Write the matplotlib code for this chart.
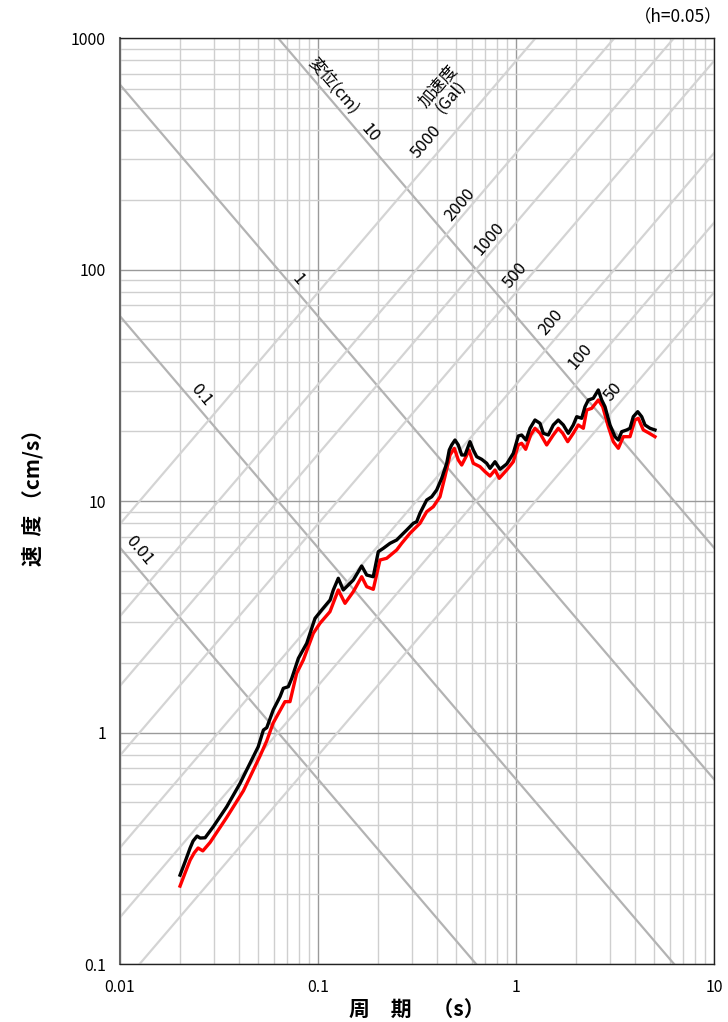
import numpy as np
import matplotlib
matplotlib.use("Agg")
import matplotlib.pyplot as plt
from matplotlib.ticker import FixedLocator, FixedFormatter, LogLocator, NullFormatter

plt.rcParams['font.family'] = ['Noto Sans CJK JP', 'DejaVu Sans']

# 擬似速度応答スペクトル (h=0.05)
period_black = [0.0201, 0.0213, 0.0226, 0.0234, 0.0245, 0.0254, 0.0269, 0.0296, 0.0346, 0.0404,
                0.0471, 0.0499, 0.0530, 0.0551, 0.0594, 0.0643, 0.0668, 0.0708, 0.0737, 0.0796,
                0.0877, 0.0966, 0.1044, 0.1151, 0.1195, 0.1266, 0.1342, 0.1508, 0.1662, 0.1762,
                0.1901, 0.2016, 0.2138, 0.2311, 0.2496, 0.2594, 0.2805, 0.3029, 0.3151, 0.3273,
                0.354, 0.3752, 0.3976, 0.4214, 0.4467, 0.4603, 0.4733, 0.492, 0.5111, 0.5318,
                0.5527, 0.5856, 0.6085, 0.6331, 0.6709, 0.7112, 0.7392, 0.7834, 0.8302, 0.8974,
                0.9691, 1.027, 1.068, 1.123, 1.177, 1.247, 1.322, 1.374, 1.456, 1.543,
                1.635, 1.734, 1.837, 1.947, 2.026, 2.147, 2.231, 2.319, 2.457, 2.604,
                2.709, 2.815, 2.984, 3.162, 3.287, 3.419, 3.623, 3.765, 3.912, 4.118,
                4.314, 4.482, 4.752, 5.035]
vel_black = [0.242, 0.276, 0.317, 0.340, 0.357, 0.350, 0.351, 0.392, 0.478, 0.603,
             0.786, 0.868, 1.025, 1.049, 1.251, 1.428, 1.552, 1.577, 1.714, 2.092,
             2.428, 3.113, 3.382, 3.736, 4.127, 4.636, 4.127, 4.558, 5.240, 4.789,
             4.709, 6.04, 6.247, 6.565, 6.784, 7.012, 7.492, 8.011, 8.139, 8.85,
             10.1, 10.43, 11.16, 12.53, 14.55, 16.61, 17.46, 18.34, 17.46, 15.80,
             15.80, 18.04, 16.61, 15.54, 15.14, 14.55, 13.84, 14.78, 13.71, 14.45,
             16.07, 19.09, 19.28, 18.34, 20.61, 22.38, 21.66, 19.61, 19.28, 21.30,
             22.38, 21.30, 19.61, 21.30, 23.13, 22.77, 25.55, 27.31, 27.77, 30.17,
             27.31, 25.55, 21.30, 18.96, 18.34, 19.93, 20.27, 20.61, 23.13, 24.31,
             23.13, 21.30, 20.61, 20.27]

period_red = [0.0201, 0.0213, 0.0226, 0.0237, 0.0248, 0.0262, 0.0285, 0.0346, 0.0420, 0.0509,
              0.0551, 0.0594, 0.0681, 0.0722, 0.0780, 0.0843, 0.0947, 0.1023, 0.1149, 0.1266,
              0.1369, 0.1508, 0.1662, 0.1762, 0.1902, 0.2056, 0.2223, 0.2496, 0.2647, 0.2914,
              0.3274, 0.354, 0.3823, 0.4131, 0.4377, 0.4642, 0.4880, 0.5111, 0.5318, 0.5592,
              0.5790, 0.6085, 0.6579, 0.6973, 0.7392, 0.7834, 0.8227, 0.8974, 0.9691, 1.027,
              1.068, 1.119, 1.186, 1.247, 1.322, 1.429, 1.543, 1.635, 1.722, 1.824,
              1.947, 2.063, 2.188, 2.276, 2.412, 2.604, 2.741, 2.926, 3.100, 3.287,
              3.483, 3.765, 3.990, 4.146, 4.395, 4.658, 5.035]
vel_red = [0.217, 0.247, 0.281, 0.302, 0.317, 0.308, 0.335, 0.430, 0.560, 0.790,
           0.920, 1.100, 1.359, 1.359, 1.802, 2.057, 2.683, 2.963, 3.325, 4.127,
           3.614, 4.058, 4.709, 4.265, 4.155, 5.561, 5.656, 6.143, 6.565, 7.252,
           8.011, 8.99, 9.45, 10.43, 12.74, 15.80, 16.89, 15.04, 14.30, 15.54,
           16.61, 14.55, 14.07, 13.39, 12.82, 13.61, 12.53, 13.61, 14.78, 17.46,
           17.76, 16.72, 19.28, 20.61, 19.61, 17.46, 19.28, 20.61, 19.61, 18.04,
           19.61, 21.30, 20.61, 24.72, 25.14, 27.31, 25.55, 20.94, 18.04, 16.89,
           18.96, 18.96, 22.38, 22.77, 20.27, 19.73, 18.96]

disp_levels = [0.01, 0.1, 1, 10]                    # cm
acc_levels = [50, 100, 200, 500, 1000, 2000, 5000]  # Gal

x_ticks = [0.01, 0.1, 1, 10]
x_labels = ['0.01', '0.1', '1', '10']
y_ticks = [0.1, 1, 10, 100, 1000]
y_labels = ['0.1', '1', '10', '100', '1000']

# (text, level, period on the line, offset in px from the line)
disp_notes = [('変位(cm)', 10, 0.1097, 11), ('10', 10, 0.172, 8), ('1', 1, 0.0743, 9),
              ('0.1', 0.1, 0.0237, 10), ('0.01', 0.01, 0.0114, 13)]
acc_notes = [('加速度\n(Gal)', 5000, 0.566, 35), ('5000', 5000, 0.396, 16),
             ('2000', 2000, 0.558, 9), ('1000', 1000, 0.789, 10), ('500', 500, 1.082, 12),
             ('200', 200, 1.676, 14), ('100', 100, 2.359, 15), ('50', 50, 3.39, 12)]

W, H = 728, 1022
x0, x1, y0, y1 = 120, 714, 38, 964
fig = plt.figure(figsize=(W / 100, H / 100), dpi=100)
ax = fig.add_axes([x0 / W, (H - y1) / H, (x1 - x0) / W, (y1 - y0) / H])
ax.set_xscale('log')
ax.set_yscale('log')

# slope of the diagonals on screen
ang = np.degrees(np.arctan(((y1 - y0) / 4) / ((x1 - x0) / 3)))

tt = np.array([1e-3, 1e2])
for d in disp_levels:
    ax.plot(tt, 2 * np.pi * d / tt, color='#b3b3b3', lw=1.6, zorder=1)
for a in acc_levels:
    ax.plot(tt, a * tt / (2 * np.pi), color='#d4d4d4', lw=1.6, zorder=1)

px2pt = 72 / 100
nd = np.array([np.cos(np.radians(ang)), np.sin(np.radians(ang))])
for txt, d, t, off in disp_notes:
    ax.annotate(txt, xy=(t, 2 * np.pi * d / t), xytext=tuple(nd * off * px2pt),
                textcoords='offset points', rotation=-ang, rotation_mode='anchor',
                ha='center', va='center', fontsize=12, zorder=2)
na = np.array([-np.cos(np.radians(ang)), np.sin(np.radians(ang))])
for txt, a, t, off in acc_notes:
    ax.annotate(txt, xy=(t, a * t / (2 * np.pi)), xytext=tuple(na * off * px2pt),
                textcoords='offset points', rotation=ang, rotation_mode='anchor',
                ha='center', va='center', multialignment='center', fontsize=12,
                linespacing=1.0, zorder=2)

ax.plot(period_red, vel_red, color='#ff0000', lw=2.4, zorder=3)
ax.plot(period_black, vel_black, color='black', lw=2.4, zorder=4)

ax.set_xlim(0.01, 10)
ax.set_ylim(0.1, 1000)
ax.xaxis.set_major_locator(FixedLocator(x_ticks))
ax.xaxis.set_major_formatter(FixedFormatter(x_labels))
ax.yaxis.set_major_locator(FixedLocator(y_ticks))
ax.yaxis.set_major_formatter(FixedFormatter(y_labels))
for axis in (ax.xaxis, ax.yaxis):
    axis.set_minor_locator(LogLocator(base=10, subs=np.arange(2, 10)))
    axis.set_minor_formatter(NullFormatter())
ax.tick_params(which='both', length=0, labelsize=11.5)
ax.tick_params(axis='x', pad=11)
ax.tick_params(axis='y', pad=10)
ax.grid(True, which='major', color='#9a9a9a', lw=1.0, zorder=0)
ax.grid(True, which='minor', color='#cfcfcf', lw=1.0, zorder=0)
ax.set_axisbelow(True)
for s in ax.spines.values():
    s.set_color('#222222')
    s.set_linewidth(1.0)
ax.spines['left'].set_color('#666666')
ax.spines['left'].set_linewidth(1.5)

fig.text(33 / W, 1 - 492 / H, '速  度 （cm/s）', rotation=90, ha='center', va='center',
         fontsize=15, fontweight='bold')
fig.text(417 / W, 1 - 1010 / H, '周　期　（s）', ha='center', va='center',
         fontsize=15, fontweight='bold')
fig.text(722 / W, 1 - 17 / H, '（h=0.05）', ha='right', va='center', fontsize=12.5)

fig.savefig('out.png', dpi=100)
